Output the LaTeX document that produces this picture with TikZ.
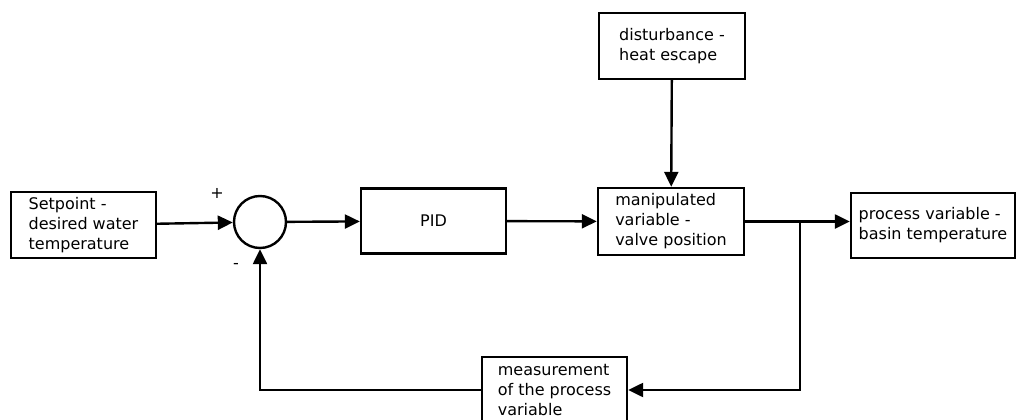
\documentclass[tikz,border=0pt]{standalone}
\usepackage{fontspec}
\setmainfont{DejaVu Sans}
\usetikzlibrary{arrows.meta}
\tikzset{
  block/.style={draw, line width=2.4pt, align=left, inner sep=0pt,
    font=\fontsize{16}{20}\selectfont},
  link/.style={line width=2.4pt, -{Triangle[length=15pt,width=14pt]}},
  line/.style={line width=2.4pt}
}
\begin{document}
\begin{tikzpicture}[x=1pt,y=-1pt]
      \useasboundingbox (0,0) rectangle (1017,420);
      \node[block, minimum width=145pt, minimum height=66pt] (sp) at (83.5,225)
        {Setpoint -\\desired water\\temperature};
      \node[draw, circle, line width=2.4pt, minimum size=52pt, inner sep=0pt] (sum) at (260,222) {};
      \node[block, minimum width=145pt, minimum height=65pt] (pid) at (433.5,221) {PID};
      \node[block, minimum width=146pt, minimum height=67pt] (mv) at (671,221.5)
        {manipulated\\variable -\\valve position};
      \node[block, minimum width=146pt, minimum height=66pt] (dist) at (672,46)
        {disturbance -\\heat escape};
      \node[block, minimum width=164pt, minimum height=65pt] (pv) at (933,225.5)
        {process variable -\\basin temperature};
      \node[block, minimum width=145pt, minimum height=66pt] (meas) at (554.5,390)
        {measurement\\of the process\\variable};
      \node[font=\fontsize{16}{20}\selectfont] (plus) at (217,193) {+};
      \node[font=\fontsize{16}{20}\selectfont] (minus) at (236,266) {-};
      \coordinate (br) at (800,221.5);
      \begin{scope}
        \draw[link] (sp) -- (sum);
        \draw[link] (sum) -- (pid);
        \draw[link] (pid) -- (mv);
        \draw[link] (dist) -- (mv);
        \draw[line] (mv.east) -- (br);
        \draw[link] (br) -- (pv.west |- br);
        \draw[link] (br) |- (meas);
        \draw[link] (meas) -| (sum);
      \end{scope}
    \end{tikzpicture}
\end{document}
